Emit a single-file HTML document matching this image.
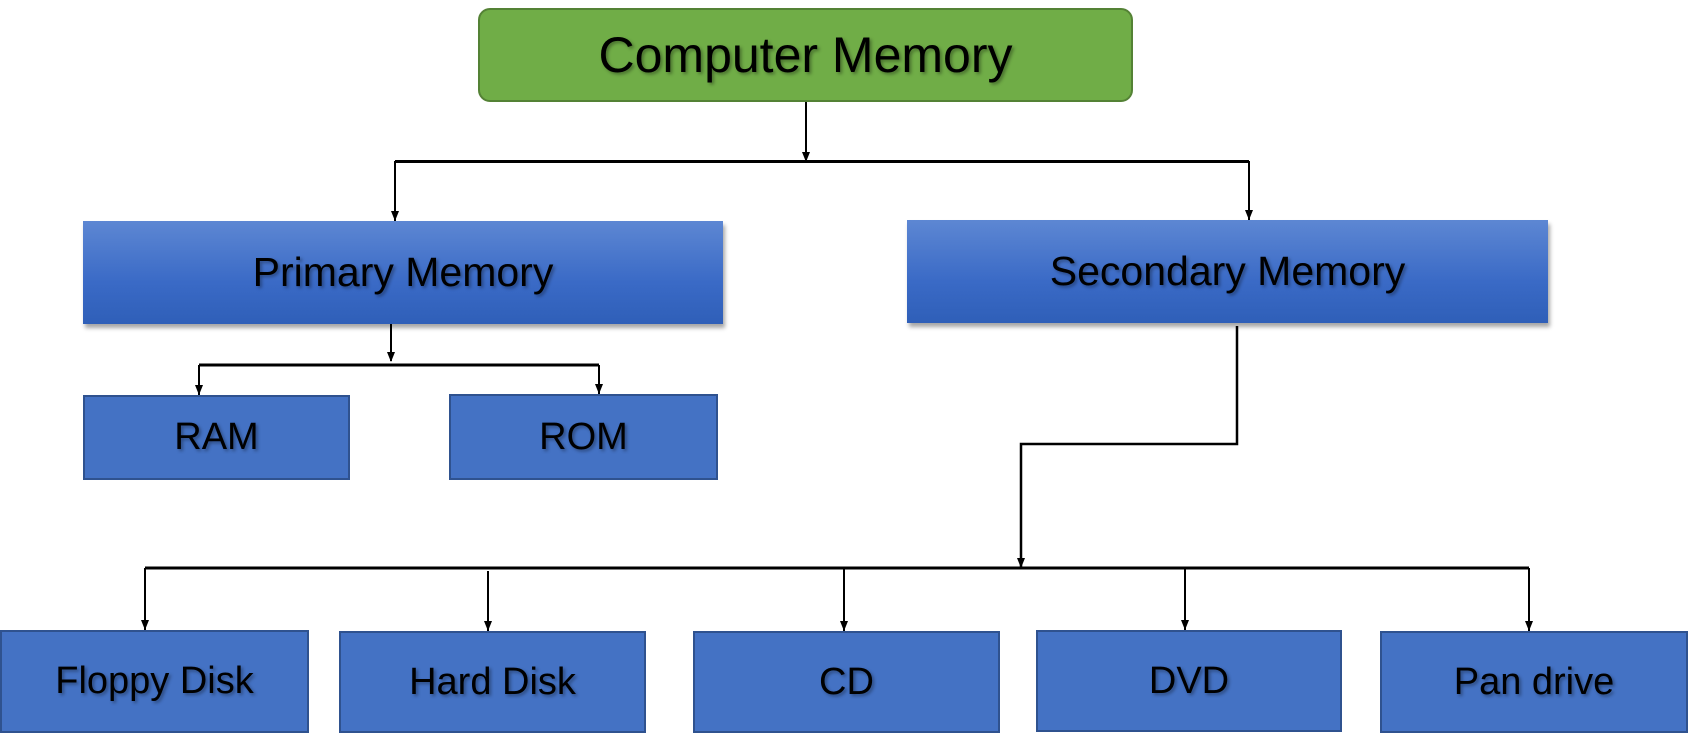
<!DOCTYPE html>
<html><head><meta charset="utf-8"><style>
body{margin:0;width:1688px;height:747px;background:#fff;position:relative;overflow:hidden;font-family:"Liberation Sans",sans-serif;}
.b{position:absolute;box-sizing:border-box;display:flex;align-items:center;justify-content:center;color:#000;text-shadow:2px 2px 3px rgba(0,0,0,0.35);}
.s{background:#4472c4;border:2px solid #2f528f;font-size:38px;}
.g{background:linear-gradient(#5d87d3,#3a6ac6 60%,#2f5fb8);font-size:41px;box-shadow:2px 4px 4px rgba(0,0,0,0.35);}
svg{position:absolute;left:0;top:0}
</style></head><body>
<div class="b" style="left:478px;top:8px;width:655px;height:94px;background:#70ad47;border:2px solid #548235;border-radius:12px;font-size:50px;">Computer Memory</div>
<div class="b g" style="left:83px;top:221px;width:640px;height:103px;">Primary Memory</div>
<div class="b g" style="left:907px;top:220px;width:641px;height:103px;">Secondary Memory</div>
<div class="b s" style="left:83px;top:395px;width:267px;height:85px;">RAM</div>
<div class="b s" style="left:449px;top:394px;width:269px;height:86px;">ROM</div>
<div class="b s" style="left:0px;top:630px;width:309px;height:103px;">Floppy Disk</div>
<div class="b s" style="left:339px;top:631px;width:307px;height:102px;">Hard Disk</div>
<div class="b s" style="left:693px;top:631px;width:307px;height:102px;">CD</div>
<div class="b s" style="left:1036px;top:630px;width:306px;height:102px;">DVD</div>
<div class="b s" style="left:1380px;top:631px;width:308px;height:102px;">Pan drive</div>
<svg width="1688" height="747">
<defs><marker id="a" markerWidth="8" markerHeight="10" refX="4" refY="10" orient="auto-start-reverse" markerUnits="userSpaceOnUse"><path d="M0,0 L8,0 L4,10z" fill="#000" transform="rotate(0)"/></marker></defs>
<g stroke="#000" fill="none" stroke-width="2">
<path d="M806,102V161" />
<path d="M395,161.5H1249" stroke-width="3"/>
<path d="M395,161V221"/><path d="M1249,161V220"/>
<path d="M391,324V361"/>
<path d="M199,365H599" stroke-width="3"/>
<path d="M199,365V395"/><path d="M599,365V394"/>
<path d="M1237,326V444H1021V568" stroke-width="2.5"/>
<path d="M145,568H1529" stroke-width="3"/>
<path d="M145,568V630"/><path d="M488,571V631"/><path d="M844,568V631"/><path d="M1185,568V630"/><path d="M1529,568V631"/>
</g>
<g fill="#000">
<path d="M802,152h8l-4,10z"/>
<path d="M391,211h8l-4,10z"/><path d="M1245,210h8l-4,10z"/>
<path d="M387,352h8l-4,10z"/>
<path d="M195,385h8l-4,10z"/><path d="M595,384h8l-4,10z"/>
<path d="M1017,558h8l-4,10z"/>
<path d="M141,620h8l-4,10z"/><path d="M484,621h8l-4,10z"/><path d="M840,621h8l-4,10z"/><path d="M1181,620h8l-4,10z"/><path d="M1525,621h8l-4,10z"/>
</g>
</svg>
</body></html>
